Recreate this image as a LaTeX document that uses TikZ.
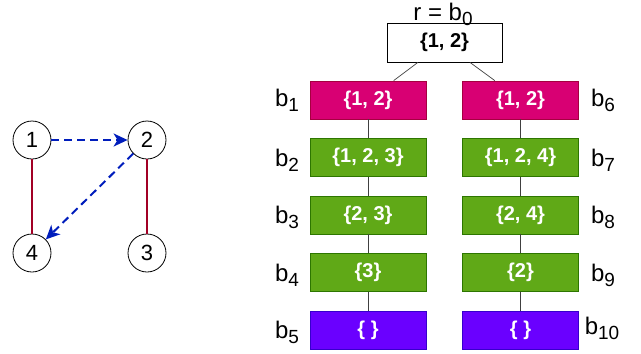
\documentclass[tikz,border=0pt]{standalone}
\usepackage{fontspec}
\setmainfont{Liberation Sans}
\usetikzlibrary{arrows.meta,calc}
\definecolor{pinkF}{HTML}{D80073}\definecolor{pinkD}{HTML}{A50040}
\definecolor{greenF}{HTML}{60A917}\definecolor{greenD}{HTML}{2D7600}
\definecolor{purpF}{HTML}{6A00FF}\definecolor{purpD}{HTML}{3700CC}
\definecolor{crim}{HTML}{A20025}\definecolor{blueA}{HTML}{001DBC}
\newcommand{\bl}[1]{b\raisebox{-5.5pt}{\fontsize{19}{19}\selectfont #1}}
\begin{document}
\begin{tikzpicture}[x=1pt,y=-1pt,
  vert/.style={circle,draw=black,fill=white,line width=0.8pt,minimum size=38pt,inner sep=0pt,font=\fontsize{22}{22}\selectfont},
  blk/.style={rectangle,minimum width=116pt,minimum height=38pt,inner sep=0pt,line width=0.8pt,text=white,font=\fontsize{20}{20}\selectfont\bfseries},
  pinkb/.style={blk,fill=pinkF,draw=pinkD},
  greenb/.style={blk,fill=greenF,draw=greenD},
  purpb/.style={blk,fill=purpF,draw=purpD},
  lbl/.style={anchor=base,font=\fontsize{24}{24}\selectfont,inner sep=0pt},
  tl/.style={draw=black!75,line width=0.7pt},
  ue/.style={draw=crim,line width=2pt},
  de/.style={draw=blueA,line width=2pt,dash pattern=on 8pt off 5pt,-{Stealth[length=14pt,width=13pt,inset=4pt]}}]
\useasboundingbox (0,0) rectangle (641,354);
% graph
\node[vert] (n1) at (32,140) {1};
\node[vert] (n2) at (147,140) {2};
\node[vert] (n4) at (32,253) {4};
\node[vert] (n3) at (147,253) {3};
\draw[ue] (n1) -- (n4);
\draw[ue] (n2) -- (n3);
\draw[de] (n1) -- (n2);
\draw[de] (n2) -- (n4);
% tree
\node[blk,fill=white,draw=black,text=black,minimum width=115pt,minimum height=39pt] (r) at (444.5,42.5) {\{1, 2\}};
\node[lbl] (rl) at (443,20) {r = \bl{0}};
\node[pinkb] (b1) at (368,100) {\{1, 2\}};
\node[greenb] (b2) at (368,157.5) {\{1, 2, 3\}};
\node[greenb] (b3) at (368,215) {\{2, 3\}};
\node[greenb] (b4) at (368,272.5) {\{3\}};
\node[purpb] (b5) at (368,330) {\{ \}};
\node[pinkb] (b6) at (520.5,100) {\{1, 2\}};
\node[greenb] (b7) at (520.5,157.5) {\{1, 2, 4\}};
\node[greenb] (b8) at (520.5,215) {\{2, 4\}};
\node[greenb] (b9) at (520.5,272.5) {\{2\}};
\node[purpb] (b10) at (520.5,330) {\{ \}};
\draw[tl] ($(r.south west)!0.27!(r.south east)$) -- ($(b1.north west)!0.72!(b1.north east)$);
\draw[tl] ($(r.south west)!0.72!(r.south east)$) -- ($(b6.north west)!0.28!(b6.north east)$);
\draw[tl] (b1) -- (b2); \draw[tl] (b2) -- (b3); \draw[tl] (b3) -- (b4); \draw[tl] (b4) -- (b5);
\draw[tl] (b6) -- (b7); \draw[tl] (b7) -- (b8); \draw[tl] (b8) -- (b9); \draw[tl] (b9) -- (b10);
% labels
\node[lbl] (l1) at (287,106) {\bl{1}};
\node[lbl] (l2) at (287,166) {\bl{2}};
\node[lbl] (l3) at (287,223) {\bl{3}};
\node[lbl] (l4) at (287,281) {\bl{4}};
\node[lbl] (l5) at (287,338) {\bl{5}};
\node[lbl] (l6) at (603,106) {\bl{6}};
\node[lbl] (l7) at (603,166) {\bl{7}};
\node[lbl] (l8) at (603,223) {\bl{8}};
\node[lbl] (l9) at (603,281) {\bl{9}};
\node[lbl] (l10) at (602,334) {\bl{10}};
\end{tikzpicture}
\end{document}
